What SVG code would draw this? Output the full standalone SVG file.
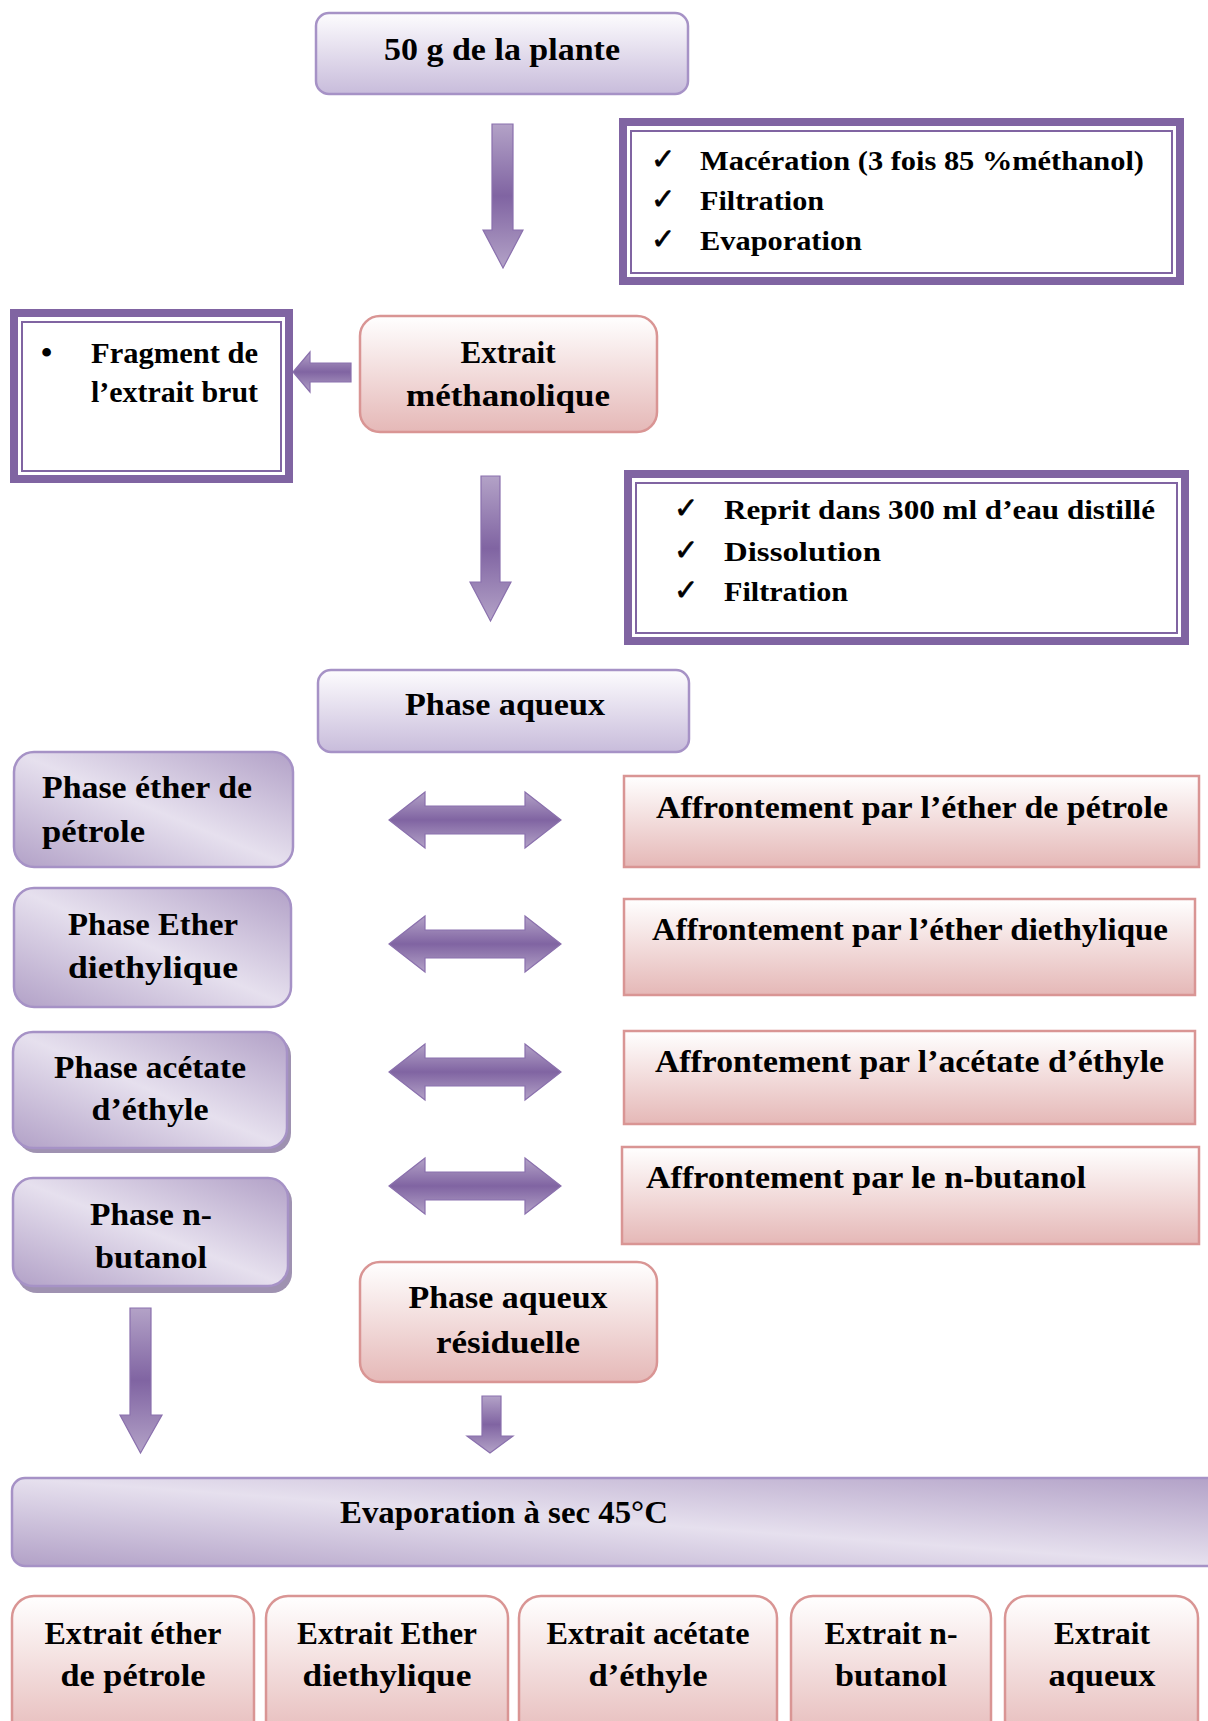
<svg xmlns="http://www.w3.org/2000/svg" width="1208" height="1721" viewBox="0 0 1208 1721">
<defs>
<style>
.t{font-family:"Liberation Serif","Times New Roman",serif;font-weight:bold;fill:#000;}
.ck{font-family:"DejaVu Sans",sans-serif;fill:#000;stroke:#000;stroke-width:0.7;font-size:29px;}
.lavV{fill:url(#gLavV);stroke:#a692c6;stroke-width:2.5;}
.lavD{fill:url(#gLavD);stroke:#a692c6;stroke-width:2.5;}
.pink{fill:url(#gPink);stroke:#d99594;stroke-width:2.5;}
.dbl{fill:#fff;stroke:#8064a2;stroke-width:8;}
.dbli{fill:none;stroke:#8064a2;stroke-width:2;}
.arr{fill:url(#gArr);stroke:#8a70ad;stroke-width:1.2;}
.shadow{fill:#9f92b1;}
</style>
<linearGradient id="gLavV" x1="0" y1="0" x2="0" y2="1">
<stop offset="0" stop-color="#fdfcfe"/>
<stop offset="1" stop-color="#c8bcdb"/>
</linearGradient>
<linearGradient id="gLavD" x1="0" y1="1" x2="1" y2="0">
<stop offset="0" stop-color="#b2a1c7"/>
<stop offset="0.5" stop-color="#e6e0ee"/>
<stop offset="1" stop-color="#b2a1c7"/>
</linearGradient>
<linearGradient id="gPink" x1="0" y1="0" x2="0" y2="1">
<stop offset="0" stop-color="#ffffff"/>
<stop offset="1" stop-color="#e5b8b7"/>
</linearGradient>
<linearGradient id="gArr" x1="0" y1="0" x2="0" y2="1">
<stop offset="0" stop-color="#b3a2c7"/>
<stop offset="0.5" stop-color="#8064a2"/>
<stop offset="1" stop-color="#b3a2c7"/>
</linearGradient>
</defs>
<rect width="1208" height="1721" fill="#fff"/>

<g id="connectors">
<path class="arr" d="M492,124 H513 V230 H523 L503,268 L483,230 H492 Z"/>
<path class="arr" d="M351,363 V382 H310 V392 L293,372 L310,352 V363 Z"/>
<path class="arr" d="M481,476 H500 V582 H511 L490.5,621 L470,582 H481 Z"/>
<path class="arr" d="M389,820 L425,792 V806 H525 V792 L561,820 L525,848 V834 H425 V848 Z"/>
<path class="arr" d="M389,944 L425,916 V930 H525 V916 L561,944 L525,972 V958 H425 V972 Z"/>
<path class="arr" d="M389,1072 L425,1044 V1058 H525 V1044 L561,1072 L525,1100 V1086 H425 V1100 Z"/>
<path class="arr" d="M389,1186 L425,1158 V1172 H525 V1158 L561,1186 L525,1214 V1200 H425 V1214 Z"/>
<path class="arr" d="M130,1308 H151 V1415 H162 L140.5,1453 L120,1415 H130 Z"/>
<path class="arr" d="M482,1396 H501 V1436 H513 L490,1453 L467,1436 H482 Z"/>
</g>

<g id="n-plante">
<rect class="lavV" x="316" y="13" width="372" height="81" rx="13"/>
<text class="t" x="502" y="60" font-size="32" text-anchor="middle" textLength="236" lengthAdjust="spacingAndGlyphs">50 g de la plante</text>
</g>

<g id="n-maceration">
<rect class="dbl" x="623" y="122" width="557" height="159"/>
<rect class="dbli" x="631" y="131" width="541" height="142"/>
<text class="ck" x="651" y="169">✓</text>
<text class="ck" x="651" y="209">✓</text>
<text class="ck" x="651" y="249">✓</text>
<text class="t" x="700" y="170" font-size="28" textLength="444" lengthAdjust="spacingAndGlyphs">Macération (3 fois 85 %méthanol)</text>
<text class="t" x="700" y="210" font-size="28" textLength="124" lengthAdjust="spacingAndGlyphs">Filtration</text>
<text class="t" x="700" y="250" font-size="28" textLength="162" lengthAdjust="spacingAndGlyphs">Evaporation</text>
</g>

<g id="n-fragment">
<rect class="dbl" x="14" y="313" width="275" height="166"/>
<rect class="dbli" x="22" y="322" width="259" height="149"/>
<text class="t" x="41" y="363" font-size="32">•</text>
<text class="t" x="91" y="363" font-size="29" textLength="167" lengthAdjust="spacingAndGlyphs">Fragment de</text>
<text class="t" x="91" y="402" font-size="29" textLength="167" lengthAdjust="spacingAndGlyphs">l’extrait brut</text>
</g>

<g id="n-methanolique">
<rect class="pink" x="360" y="316" width="297" height="116" rx="20"/>
<text class="t" x="508" y="363" font-size="31" text-anchor="middle" textLength="95" lengthAdjust="spacingAndGlyphs">Extrait</text>
<text class="t" x="508" y="406" font-size="31" text-anchor="middle" textLength="204" lengthAdjust="spacingAndGlyphs">méthanolique</text>
</g>

<g id="n-reprit">
<rect class="dbl" x="628" y="474" width="557" height="167"/>
<rect class="dbli" x="636" y="483" width="541" height="150"/>
<text class="ck" x="674" y="518">✓</text>
<text class="ck" x="674" y="560">✓</text>
<text class="ck" x="674" y="600">✓</text>
<text class="t" x="724" y="519" font-size="28" textLength="431" lengthAdjust="spacingAndGlyphs">Reprit dans 300 ml d’eau distillé</text>
<text class="t" x="724" y="561" font-size="28" textLength="157" lengthAdjust="spacingAndGlyphs">Dissolution</text>
<text class="t" x="724" y="601" font-size="28" textLength="124" lengthAdjust="spacingAndGlyphs">Filtration</text>
</g>

<g id="n-phase-aqueux">
<rect class="lavV" x="318" y="670" width="371" height="82" rx="13"/>
<text class="t" x="505" y="715" font-size="31" text-anchor="middle" textLength="200" lengthAdjust="spacingAndGlyphs">Phase aqueux</text>
</g>

<g id="n-phase-ep">
<rect class="lavD" x="14" y="752" width="279" height="115" rx="20"/>
<text class="t" x="42" y="798" font-size="31" textLength="210" lengthAdjust="spacingAndGlyphs">Phase éther de</text>
<text class="t" x="42" y="842" font-size="31" textLength="103" lengthAdjust="spacingAndGlyphs">pétrole</text>
</g>

<g id="n-phase-ed">
<rect class="lavD" x="14" y="888" width="277" height="119" rx="20"/>
<text class="t" x="153" y="935" font-size="31" text-anchor="middle" textLength="170" lengthAdjust="spacingAndGlyphs">Phase Ether</text>
<text class="t" x="153" y="978" font-size="31" text-anchor="middle" textLength="170" lengthAdjust="spacingAndGlyphs">diethylique</text>
</g>

<g id="n-phase-ac">
<rect class="shadow" x="17" y="1036" width="274" height="117" rx="20"/>
<rect class="lavD" x="13" y="1032" width="274" height="116" rx="20"/>
<text class="t" x="150" y="1078" font-size="31" text-anchor="middle" textLength="192" lengthAdjust="spacingAndGlyphs">Phase acétate</text>
<text class="t" x="150" y="1120" font-size="31" text-anchor="middle" textLength="117" lengthAdjust="spacingAndGlyphs">d’éthyle</text>
</g>

<g id="n-phase-bu">
<rect class="shadow" x="17" y="1182" width="275" height="111" rx="20"/>
<rect class="lavD" x="13" y="1178" width="275" height="108" rx="20"/>
<text class="t" x="151" y="1225" font-size="31" text-anchor="middle" textLength="122" lengthAdjust="spacingAndGlyphs">Phase n-</text>
<text class="t" x="151" y="1268" font-size="31" text-anchor="middle" textLength="112" lengthAdjust="spacingAndGlyphs">butanol</text>
</g>

<g id="n-aff-ep">
<rect class="pink" x="624" y="776" width="575" height="91"/>
<text class="t" x="656" y="818" font-size="31" textLength="512" lengthAdjust="spacingAndGlyphs">Affrontement par l’éther de pétrole</text>
</g>

<g id="n-aff-ed">
<rect class="pink" x="624" y="899" width="571" height="96"/>
<text class="t" x="652" y="940" font-size="31" textLength="516" lengthAdjust="spacingAndGlyphs">Affrontement par l’éther diethylique</text>
</g>

<g id="n-aff-ac">
<rect class="pink" x="624" y="1031" width="571" height="93"/>
<text class="t" x="655" y="1072" font-size="31" textLength="509" lengthAdjust="spacingAndGlyphs">Affrontement par l’acétate d’éthyle</text>
</g>

<g id="n-aff-bu">
<rect class="pink" x="622" y="1147" width="577" height="97"/>
<text class="t" x="646" y="1188" font-size="31" textLength="440" lengthAdjust="spacingAndGlyphs">Affrontement par le n-butanol</text>
</g>

<g id="n-residuelle">
<rect class="pink" x="360" y="1262" width="297" height="120" rx="20"/>
<text class="t" x="508" y="1308" font-size="31" text-anchor="middle" textLength="199" lengthAdjust="spacingAndGlyphs">Phase aqueux</text>
<text class="t" x="508" y="1353" font-size="31" text-anchor="middle" textLength="144" lengthAdjust="spacingAndGlyphs">résiduelle</text>
</g>

<g id="n-evaporation">
<rect class="lavD" x="12" y="1478" width="1210" height="88" rx="13"/>
<text class="t" x="340" y="1523" font-size="31" textLength="328" lengthAdjust="spacingAndGlyphs">Evaporation à sec 45°C</text>
</g>

<g id="n-ext-ep">
<rect class="pink" x="12" y="1596" width="242" height="150" rx="22"/>
<text class="t" x="133" y="1644" font-size="31" text-anchor="middle" textLength="177" lengthAdjust="spacingAndGlyphs">Extrait éther</text>
<text class="t" x="133" y="1686" font-size="31" text-anchor="middle" textLength="145" lengthAdjust="spacingAndGlyphs">de pétrole</text>
</g>

<g id="n-ext-ed">
<rect class="pink" x="266" y="1596" width="242" height="150" rx="22"/>
<text class="t" x="387" y="1644" font-size="31" text-anchor="middle" textLength="180" lengthAdjust="spacingAndGlyphs">Extrait Ether</text>
<text class="t" x="387" y="1686" font-size="31" text-anchor="middle" textLength="169" lengthAdjust="spacingAndGlyphs">diethylique</text>
</g>

<g id="n-ext-ac">
<rect class="pink" x="519" y="1596" width="258" height="150" rx="22"/>
<text class="t" x="648" y="1644" font-size="31" text-anchor="middle" textLength="203" lengthAdjust="spacingAndGlyphs">Extrait acétate</text>
<text class="t" x="648" y="1686" font-size="31" text-anchor="middle" textLength="119" lengthAdjust="spacingAndGlyphs">d’éthyle</text>
</g>

<g id="n-ext-bu">
<rect class="pink" x="791" y="1596" width="200" height="150" rx="22"/>
<text class="t" x="891" y="1644" font-size="31" text-anchor="middle" textLength="133" lengthAdjust="spacingAndGlyphs">Extrait n-</text>
<text class="t" x="891" y="1686" font-size="31" text-anchor="middle" textLength="112" lengthAdjust="spacingAndGlyphs">butanol</text>
</g>

<g id="n-ext-aq">
<rect class="pink" x="1005" y="1596" width="193" height="150" rx="22"/>
<text class="t" x="1102" y="1644" font-size="31" text-anchor="middle" textLength="96" lengthAdjust="spacingAndGlyphs">Extrait</text>
<text class="t" x="1102" y="1686" font-size="31" text-anchor="middle" textLength="107" lengthAdjust="spacingAndGlyphs">aqueux</text>
</g>
</svg>
